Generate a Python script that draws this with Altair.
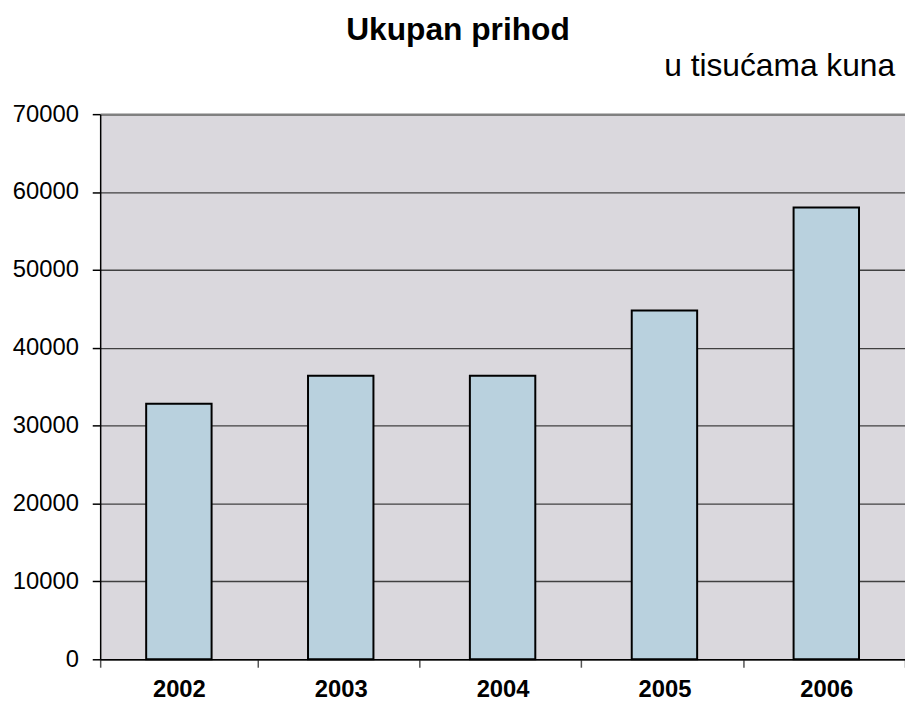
import altair as alt
import pandas as pd

years = ["2002", "2003", "2004", "2005", "2006"]
values = [32800, 36400, 36400, 44800, 58000]
y_ticks = [0, 10000, 20000, 30000, 40000, 50000, 60000, 70000]
title_text = ["Ukupan prihod"]
subtitle_text = ["u tisućama kuna"]

df = pd.DataFrame({"year": years, "value": values})

FONT = "Liberation Sans"

bars = alt.Chart(df).mark_bar(
    color="#B9D1DE", stroke="#000000", strokeWidth=2, width=66
).encode(
    x=alt.X("year:N", sort=years, title=None,
            scale=alt.Scale(paddingInner=0.0275, paddingOuter=0),
            axis=alt.Axis(labelAngle=0, labelFont=FONT, labelFontSize=24, labelFontWeight="bold",
                          labelColor="#000000", tickBand="extent", tickSize=8, tickColor="#555555",
                          tickWidth=1.5, domainColor="#000000", domainWidth=1.5, labelPadding=11,
                          grid=False)),
    y=alt.Y("value:Q", title=None,
            scale=alt.Scale(domain=[0, 70000], nice=False),
            axis=alt.Axis(values=y_ticks, format="d", labelFont=FONT, labelFontSize=24,
                          labelColor="#000000", tickSize=8, tickColor="#000000", tickWidth=1.5,
                          domainColor="#000000", domainWidth=1.5, labelPadding=14,
                          grid=True,
                          gridColor=alt.condition("datum.value == 70000", alt.value("#808080"), alt.value("#404040")),
                          gridWidth=alt.condition("datum.value == 70000", alt.value(2.5), alt.value(1.3)),
                          gridOpacity=1)),
)

title = alt.Chart(pd.DataFrame({"t": title_text})).mark_text(
    font=FONT, fontSize=32, fontWeight="bold", align="center", baseline="alphabetic", color="#000000"
).encode(text="t:N", x=alt.value(361), y=alt.value(-75))

subtitle = alt.Chart(pd.DataFrame({"t": subtitle_text})).mark_text(
    font=FONT, fontSize=32, align="right", baseline="alphabetic", color="#000000"
).encode(text="t:N", x=alt.value(802), y=alt.value(-38))

chart = alt.layer(bars, title, subtitle).properties(
    width=812, height=550,
    autosize=alt.AutoSizeParams(type="none"),
    padding={"left": 93, "top": 104, "right": 0, "bottom": 41},
    background="#FFFFFF",
).configure_view(fill="#DAD8DD", stroke=None)

chart.save("out.html", embed_options={"renderer": "svg", "actions": False})
